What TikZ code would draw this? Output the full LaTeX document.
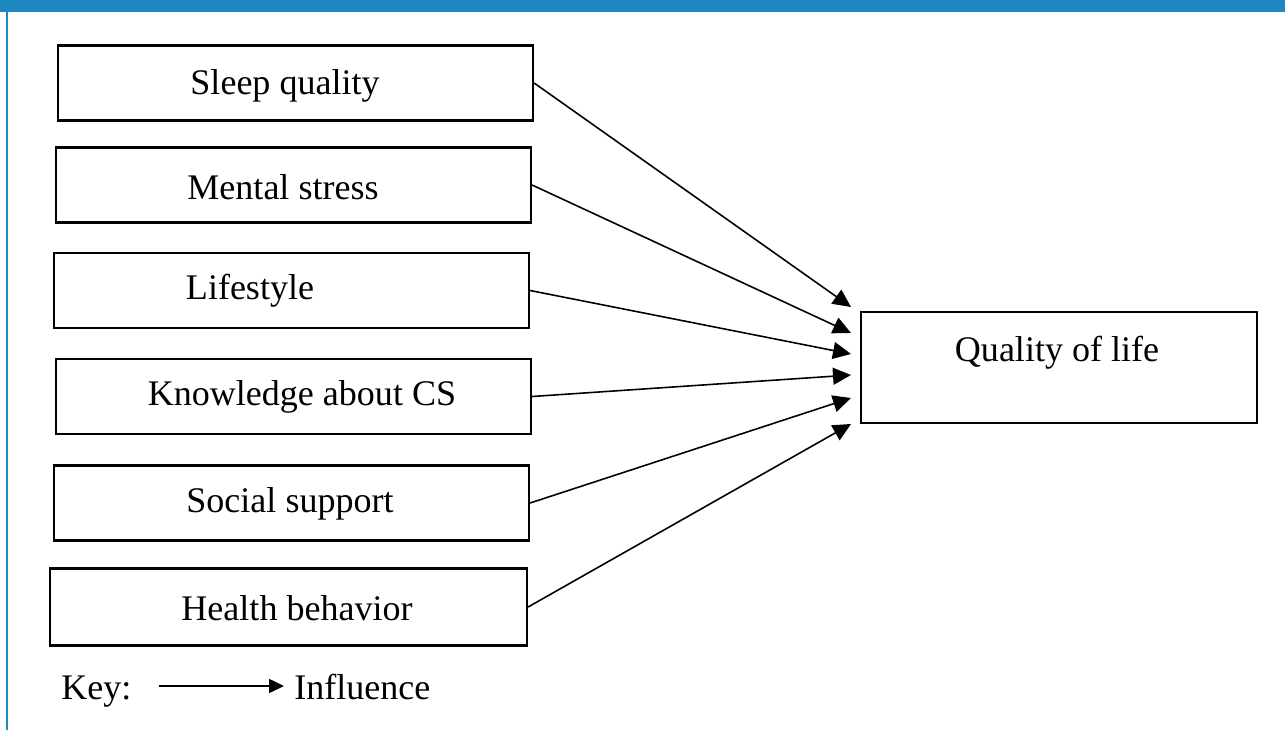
\documentclass[tikz,border=0pt]{standalone}
\usepackage{fontspec}
\setmainfont{Liberation Serif}
\usetikzlibrary{arrows.meta}
\definecolor{frameblue}{RGB}{30,136,194}
\tikzset{
  box/.style={draw, line width=1.3pt, minimum width=9.5cm, minimum height=1.5cm, inner sep=0pt},
  lbl/.style={font=\fontsize{20.5}{24}\selectfont, inner sep=0pt},
  infl/.style={-{Triangle[length=0.36cm,width=0.34cm]}, line width=0.9pt}
}
\begin{document}
\begin{tikzpicture}[x=0.02cm,y=-0.02cm]
\useasboundingbox (0,0) rectangle (1285,730);
\fill[frameblue] (0,0) rectangle (1285,12);
\fill[frameblue] (6,12) rectangle (8,730);

% factors
\node[box] (sleep) at (295.5,83) {};
\node[box] (mental) at (293.5,185) {};
\node[box] (lifestyle) at (291.5,290.5) {};
\node[box] (knowledge) at (293.5,396.5) {};
\node[box] (social) at (291.5,503) {};
\node[box, minimum width=9.54cm, minimum height=1.54cm] (health) at (288.5,607) {};
\node[box, minimum width=7.92cm, minimum height=2.22cm] (qol) at (1059,367.5) {};

\node[lbl] (sleeptxt) at (285,86) {Sleep quality};
\node[lbl] (mentaltxt) at (283,187) {Mental stress};
\node[lbl] (lifestyletxt) at (250,291) {Lifestyle};
\node[lbl] (knowledgetxt) at (302,397) {Knowledge about CS};
\node[lbl] (socialtxt) at (290,504) {Social support};
\node[lbl] (healthtxt) at (297,608) {Health behavior};
\node[lbl] (qoltxt) at (1057,353) {Quality of life};

% arrow ends
\coordinate (t1) at (851,307);
\coordinate (t2) at (851,333);
\coordinate (t3) at (851,354);
\coordinate (t4) at (851,375);
\coordinate (t5) at (851,398);
\coordinate (t6) at (851,424);

\draw[infl] (sleep.east) -- (t1);
\draw[infl] (mental.east) -- (t2);
\draw[infl] (lifestyle.east) -- (t3);
\draw[infl] (knowledge.east) -- (t4);
\draw[infl] (social.east) -- (t5);
\draw[infl] (health.east) -- (t6);

% key
\node[lbl, anchor=base west] (key) at (61,699) {Key:};
\node[lbl, anchor=base west] (influence) at (294,699) {Influence};
\coordinate (k1) at (159,686);
\coordinate (k2) at (284,686);
\draw[infl, -{Triangle[length=0.3cm,width=0.28cm]}] (k1) -- (k2);
\end{tikzpicture}
\end{document}
